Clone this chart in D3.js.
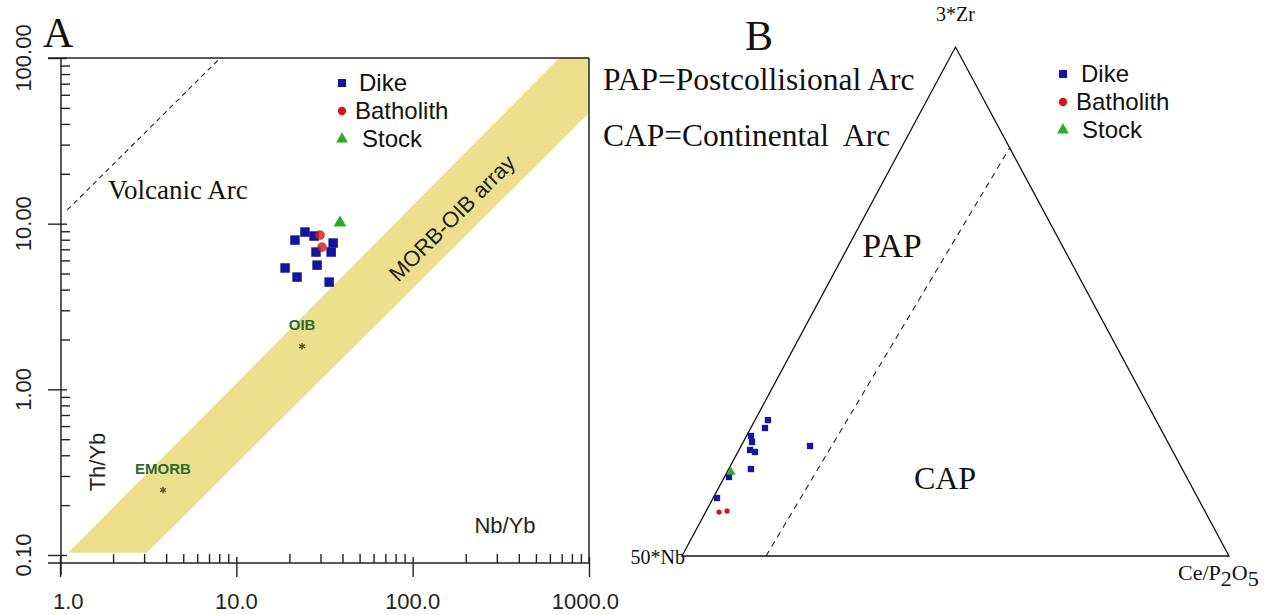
<!DOCTYPE html>
<meta charset="utf-8" />
<script src="https://d3js.org/d3.v7.min.js"></script>
<style>
  body { margin: 0; background: #fff; }
  .serif { font-family: "Liberation Serif", "Times New Roman", serif; fill: #111; }
  .sans { font-family: "Liberation Sans", Arial, sans-serif; fill: #222; }
  .legend { font-family: "Liberation Sans", Arial, sans-serif; font-size: 24px; fill: #111; }
</style>
<div id="my_dataviz"></div>
<script>
// ---------- Panel A : Th/Yb vs Nb/Yb ----------
var dikeNbYb = [21.5, 24.5, 27.6, 35.4, 34.5, 28.3, 28.7, 18.9, 22.1, 33.6];
var dikeThYb = [7.96, 8.90, 8.42, 7.64, 6.74, 6.74, 5.62, 5.40, 4.76, 4.44];
var batholithNbYb = [29.8, 30.6];
var batholithThYb = [8.53, 7.22];
var stockNbYb = [38.7];
var stockThYb = [10.1];

// reference compositions
var refNames = ["OIB", "EMORB"];
var refNbYb = [23.6, 3.84];
var refThYb = [1.82, 0.247];

// MORB-OIB array outline and volcanic arc boundary
var arrayNbYb = [1.11, 676, 1000, 1000, 3.11];
var arrayThYb = [0.103, 100, 100, 46.5, 0.103];
var arcNbYb = [1.1, 8.1];
var arcThYb = [12.1, 100];

var xTicks = [1, 10, 100, 1000];
var xTickLabels = ["1.0", "10.0", "100.0", "1000.0"];
var yTicks = [0.1, 1, 10, 100];
var yTickLabels = ["0.10", "1.00", "10.00", "100.00"];

// ---------- Panel B : 3*Zr - 50*Nb - Ce/P2O5 (fractions) ----------
var dikeZr = [0.267, 0.2515, 0.2358, 0.224, 0.2083, 0.2043, 0.1709, 0.1552, 0.1139, 0.2161];
var dikeCe = [0.0236, 0.026, 0.0082, 0.016, 0.0202, 0.0313, 0.0406, 0.0083, 0.007, 0.126];
var batholithZr = [0.0864, 0.0884];
var batholithCe = [0.0244, 0.0381];
var stockZr = [0.165];
var stockCe = [0.0071];
var boundaryZr = [0, 0.802];
var boundaryCe = [0.1536, 0.198];

var legendNames = ["Dike", "Batholith", "Stock"];
var legendColors = ["#1414a0", "#d01818", "#22b022"];

var svg = d3.select("#my_dataviz").append("svg")
  .attr("width", 1265).attr("height", 615)
  .style("background", "#fff");

// scales panel A
var x = d3.scaleLog().domain([1, 1000]).range([60, 589]);
var y = d3.scaleLog().domain([0.1, 100]).range([555, 58]);
var yBottom = 563;

svg.append("clipPath").attr("id", "clipA")
  .append("rect").attr("x", 61).attr("y", 58).attr("width", 528).attr("height", yBottom - 58);

var gA = svg.append("g");

// MORB-OIB array band
gA.append("path")
  .attr("clip-path", "url(#clipA)")
  .attr("d", d3.line()(arrayNbYb.map(function (d, i) { return [x(d), y(arrayThYb[i])]; })) + "Z")
  .attr("fill", "#ece08f");

// volcanic arc dashed boundary
gA.append("path")
  .attr("d", d3.line()(arcNbYb.map(function (d, i) { return [x(d), y(arcThYb[i])]; })))
  .attr("stroke", "#222").attr("stroke-width", 1.1).attr("stroke-dasharray", "5,4").attr("fill", "none");

// frame lines
gA.append("line").attr("x1", 48).attr("x2", 589).attr("y1", 58).attr("y2", 58).attr("stroke", "#222").attr("stroke-width", 1.5);
gA.append("line").attr("x1", 589).attr("x2", 589).attr("y1", 58).attr("y2", yBottom).attr("stroke", "#222").attr("stroke-width", 1.5);
gA.append("line").attr("x1", 48).attr("x2", 589).attr("y1", yBottom).attr("y2", yBottom).attr("stroke", "#222").attr("stroke-width", 1.5);
gA.append("line").attr("x1", 61).attr("x2", 61).attr("y1", 58).attr("y2", 575).attr("stroke", "#222").attr("stroke-width", 1.5);

// minor ticks
var xMinor = [], yMinor = [];
[1, 10, 100].forEach(function (b) { for (var k = 2; k < 10; k++) xMinor.push(b * k); });
[0.1, 1, 10].forEach(function (b) { for (var k = 2; k < 10; k++) yMinor.push(b * k); });

var ax1 = gA.append("g").attr("transform", "translate(0," + yBottom + ")")
  .call(d3.axisTop(x).tickValues(xMinor).tickSize(9).tickFormat(""));
var ax2 = gA.append("g").attr("transform", "translate(0," + yBottom + ")")
  .call(d3.axisBottom(x).tickValues(xTicks).tickSize(14).tickFormat(""));
ax2.selectAll(".tick line").attr("y1", -6);
var ay1 = gA.append("g").attr("transform", "translate(61,0)")
  .call(d3.axisRight(y).tickValues(yMinor).tickSize(9).tickFormat(""));
var ay2 = gA.append("g").attr("transform", "translate(61,0)")
  .call(d3.axisLeft(y).tickValues(yTicks).tickSize(13).tickFormat(""));
ay2.selectAll(".tick line").attr("x1", 6);
[ax1, ax2, ay1, ay2].forEach(function (a) {
  a.select(".domain").remove();
  a.selectAll(".tick line").attr("stroke", "#222").attr("stroke-width", 1.4);
});

// tick labels
gA.selectAll(".xlab").data(xTicks).enter().append("text")
  .attr("class", "sans")
  .attr("x", function (d, i) { return x(d) + (i === 0 ? -7 : 0); })
  .attr("y", 609)
  .attr("text-anchor", function (d, i) { return i === 0 ? "start" : (i === xTicks.length - 1 ? "end" : "middle"); })
  .attr("dx", function (d, i) { return i === xTicks.length - 1 ? 30 : 0; })
  .style("font-size", "22px")
  .text(function (d, i) { return xTickLabels[i]; });

gA.selectAll(".ylab").data(yTicks).enter().append("text")
  .attr("class", "sans")
  .attr("transform", function (d) { return "translate(31," + y(d) + ") rotate(-90)"; })
  .attr("text-anchor", "middle")
  .style("font-size", "22px")
  .text(function (d, i) { return yTickLabels[i]; });

// axis titles and field labels
gA.append("text").attr("class", "sans").attr("transform", "translate(105,462) rotate(-90)")
  .attr("text-anchor", "middle").style("font-size", "22px").text("Th/Yb");
gA.append("text").attr("class", "sans").attr("x", 505).attr("y", 533)
  .attr("text-anchor", "middle").style("font-size", "22px").text("Nb/Yb");
gA.append("text").attr("class", "serif").attr("x", 108).attr("y", 199)
  .style("font-size", "27px").text("Volcanic Arc");
gA.append("text").attr("class", "sans").attr("transform", "translate(452,218) rotate(-45)")
  .attr("text-anchor", "middle").attr("dy", "0.35em").style("font-size", "22px").text("MORB-OIB array");
gA.append("text").attr("class", "serif").attr("x", 43).attr("y", 47)
  .style("font-size", "42px").text("A");

// reference stars
refNames.forEach(function (n, i) {
  gA.append("path")
    .attr("transform", "translate(" + x(refNbYb[i]) + "," + y(refThYb[i]) + ")")
    .attr("d", d3.symbol().type(d3.symbolAsterisk).size(30))
    .attr("stroke", "#4a5a1a").attr("stroke-width", 1.3).attr("fill", "none");
  gA.append("text").attr("x", x(refNbYb[i])).attr("y", y(refThYb[i]) - 16)
    .attr("text-anchor", "middle")
    .style("font-family", "Liberation Sans, Arial, sans-serif").style("font-size", "15px").style("font-weight", "bold")
    .style("fill", "#2f6b30").text(n);
});

// data points
function drawPoints(g, xs, ys, px, py, type, size, color, op) {
  g.selectAll(null).data(xs).enter().append("path")
    .attr("transform", function (d, i) { return "translate(" + px(d, i) + "," + py(ys[i], i) + ")"; })
    .attr("d", d3.symbol().type(type).size(size))
    .attr("fill", color).attr("fill-opacity", op);
}
drawPoints(gA, dikeNbYb, dikeThYb, x, y, d3.symbolSquare, 90, legendColors[0], 1);
drawPoints(gA, batholithNbYb, batholithThYb, x, y, d3.symbolCircle, 75, legendColors[1], 0.8);
drawPoints(gA, stockNbYb, stockThYb, x, y, d3.symbolTriangle, 70, legendColors[2], 1);

// legend helper
function legend(g, x0, ys, tx) {
  var types = [d3.symbolSquare, d3.symbolCircle, d3.symbolTriangle];
  var sizes = [64, 55, 60];
  legendNames.forEach(function (n, i) {
    g.append("path").attr("transform", "translate(" + x0 + "," + ys[i] + ")")
      .attr("d", d3.symbol().type(types[i]).size(sizes[i])).attr("fill", legendColors[i]);
    g.append("text").attr("class", "legend").attr("x", tx[i]).attr("y", ys[i]).attr("dy", "0.35em").text(n);
  });
}
legend(gA, 342, [83, 111, 139], [359, 355, 362]);

// ---------- Panel B ----------
var gB = svg.append("g");
var tx = d3.scaleLinear().domain([0, 1]).range([682, 1229]);
var ty = d3.scaleLinear().domain([0, 1]).range([556, 47]);
function px(ce, zr) { return tx(ce + zr / 2); }

var tri = [[0, 0], [0, 1], [1, 0]]; // [ce, zr]
gB.append("path")
  .attr("d", d3.line()(tri.map(function (c) { return [px(c[0], c[1]), ty(c[1])]; })) + "Z")
  .attr("fill", "none").attr("stroke", "#111").attr("stroke-width", 1.3);

gB.append("path")
  .attr("d", d3.line()(boundaryCe.map(function (c, i) { return [px(c, boundaryZr[i]), ty(boundaryZr[i])]; })))
  .attr("fill", "none").attr("stroke", "#222").attr("stroke-width", 1.1).attr("stroke-dasharray", "6,5");

gB.append("text").attr("class", "serif").attr("x", 745).attr("y", 50).style("font-size", "42px").text("B");
gB.append("text").attr("class", "serif").attr("x", 603).attr("y", 90).style("font-size", "31.5px").text("PAP=Postcollisional Arc");
gB.append("text").attr("class", "serif").attr("x", 603).attr("y", 146).attr("xml:space", "preserve")
  .style("font-size", "31.5px").style("white-space", "pre").text("CAP=Continental  Arc");
gB.append("text").attr("class", "serif").attr("x", 892).attr("y", 257).attr("text-anchor", "middle").style("font-size", "34px").text("PAP");
gB.append("text").attr("class", "serif").attr("x", 945).attr("y", 489).attr("text-anchor", "middle").style("font-size", "32px").text("CAP");

gB.append("text").attr("class", "serif").attr("x", px(0, 1)).attr("y", 21).attr("text-anchor", "middle").style("font-size", "20px").text("3*Zr");
gB.append("text").attr("class", "serif").attr("x", px(0, 0) + 3).attr("y", 564).attr("text-anchor", "end").style("font-size", "20px").text("50*Nb");
var ceLab = gB.append("text").attr("class", "serif").attr("x", 1178).attr("y", 580).style("font-size", "22px");
ceLab.append("tspan").text("Ce/P");
ceLab.append("tspan").attr("dy", 6).text("2");
ceLab.append("tspan").attr("dy", -6).text("O");
ceLab.append("tspan").attr("dy", 6).text("5");

drawPoints(gB, dikeCe, dikeZr, function (c, i) { return px(c, dikeZr[i]); }, function (z) { return ty(z); }, d3.symbolSquare, 40, legendColors[0], 1);
drawPoints(gB, stockCe, stockZr, function (c, i) { return px(c, stockZr[i]); }, function (z) { return ty(z); }, d3.symbolTriangle, 36, legendColors[2], 1);
drawPoints(gB, batholithCe, batholithZr, function (c, i) { return px(c, batholithZr[i]); }, function (z) { return ty(z); }, d3.symbolCircle, 22, legendColors[1], 1);

legend(gB, 1063, [74, 102, 130], [1081, 1076, 1082]);
</script>
